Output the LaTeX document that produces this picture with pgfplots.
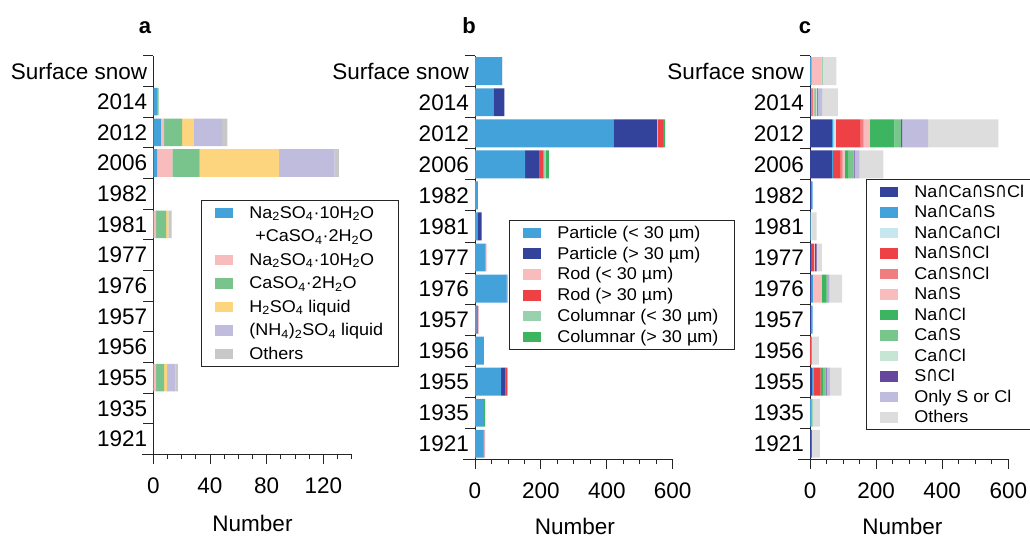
\documentclass[border=0pt]{standalone}
\usepackage{pgfplots}
\pgfplotsset{compat=1.18}
\usepackage{pgfplotstable}
\usepackage{graphicx}
\usepackage{fontspec}
\setmainfont{Liberation Sans}
\newfontfamily\legfam[FakeStretch=1.06]{Liberation Sans}
\newfontfamily\djv{DejaVu Sans}
\newcommand\inter{\scalebox{1.05}[1.4]{\djv\fontsize{15}{18}\selectfont ∩}}
\newcommand\tickfont{\fontsize{22.5}{27}\selectfont}
\newcommand\legfont{\legfam\fontsize{17}{20}\selectfont}
\definecolor{aBlue}{HTML}{43A2DA}
\definecolor{aPink}{HTML}{F8BCBC}
\definecolor{aGreen}{HTML}{78C48C}
\definecolor{aYellow}{HTML}{FED57F}
\definecolor{aPurple}{HTML}{C0BCDD}
\definecolor{aGray}{HTML}{C8C8C8}
\definecolor{bNavy}{HTML}{33429A}
\definecolor{bRed}{HTML}{EE4145}
\definecolor{bLGreen}{HTML}{98D1AD}
\definecolor{bGreen}{HTML}{3DB460}
\definecolor{cLBlue}{HTML}{C6E6F0}
\definecolor{cSalmon}{HTML}{F07E80}
\definecolor{cCaS}{HTML}{79C68C}
\definecolor{cCaCl}{HTML}{C7E5D5}
\definecolor{cSCl}{HTML}{65489C}
\definecolor{cOthers}{HTML}{DDDDDD}

\pgfplotstableread{
y s1 s2 s3 s4 s5 s6
12 0 0 0 0 0 0
11 2.5 0 1.2 0 0 0
10 5.4 2.2 12.7 8.3 19.9 3.7
9 2.6 10.9 19.1 56.1 39.3 3.0
8 0 0 0 0 0 0
7 0 1.9 7.1 1.6 0 2.4
6 0 0 0 0 0 0
5 0 0 0 0 0 0
4 0 0 0 0 0 0
3 0 0 0 0 0 0
2 0 1.9 5.7 2.1 5.9 1.7
1 0 0 0 0 0 0
0 0 0 0 0 0 0
}\dataA

\pgfplotstableread{
y p1 p2 p3 p4 p5 p6
12 80 2 0 0 0 0
11 56 33 0 0 0 0
10 420 133 1 17 0 6
9 152 44 0 12 6 10
8 9 0 0 0 0 0
7 7 13 0 0 0 0
6 32 0 3 0 0 0
5 96 2 0 0 0 0
4 4 3 0 3 0 0
3 27 0 0 0 0 0
2 79 13 0 5 3 0
1 27 0 0 0 0 4
0 26 2 3 0 0 0
}\dataB

\pgfplotstableread{
y c1 c2 c3 c4 c5 c6 c7 c8 c9 c10 c11 c12
12 0 5 0 0 0 30 0 3 0 0 1 41
11 2 2 0 4 0 5 4 0 3 3 14 47
10 66 5 7 75 9 18 75 21 0 3 78 213
9 66 3 0 24 6 6 12 15 0 3 15 72
8 3 5 0 0 0 0 0 0 0 0 0 0
7 0 2 3 0 0 0 0 0 0 0 0 15
6 3 0 0 9 0 3 0 0 0 5 0 16
5 3 6 0 0 0 27 14 3 0 2 4 38
4 4 4 0 0 0 0 0 0 0 0 0 0
3 0 0 0 3 3 0 0 0 0 0 0 21
2 6 4 0 22 0 0 7 8 0 3 10 36
1 0 3 0 0 0 0 0 5 0 0 0 22
0 3 0 0 3 0 0 0 0 0 0 0 24
}\dataC

\pgfplotsset{
  panel/.style={
    scale only axis, xbar stacked, bar width=0.9,
    axis x line*=bottom, axis y line*=middle,
    hide obscured x ticks=false, hide obscured y ticks=false,
    axis line style={-, line width=0.9pt, black!85},
    tick style={line width=0.9pt, black!85},
    tick align=outside,
    major tick length=10pt, minor tick length=5pt,
    ymin=-0.5, ymax=12.5,
    ytick={-0.5,0.5,...,12.5}, yticklabels={},
    extra y ticks={0,1,2,3,4,5,6,7,8,9,10,11,12},
    extra y tick labels={1921,1935,1955,1956,1957,1976,1977,1981,1982,2006,2012,2014,Surface snow},
    extra y tick style={ytick style={draw=none}},
    tick label style={font=\tickfont},
    yticklabel style={inner sep=0pt, xshift=4pt},
    xticklabel style={inner sep=0pt, yshift=-13pt},
    xlabel=Number,
    xlabel style={font=\tickfont, anchor=base},
    title style={anchor=base},
    legend image code/.code={\path[##1] (0pt,-5.3pt) rectangle (17.5pt,5.3pt);},
    legend cell align=left,
    legend style={draw=black!85, line width=0.8pt, font=\legfont, anchor=north west,
      inner xsep=14pt, inner ysep=3.5pt,
      nodes={inner xsep=1.5pt, inner ysep=0pt, text height=14.5pt, text depth=3.5pt},
      /tikz/every odd column/.append style={column sep=15pt}},
  },
}

\begin{document}
\begin{tikzpicture}
\path[use as bounding box] (0,0) rectangle (1030pt,538pt);

% ---------- a ----------
\begin{axis}[panel,
  at={(141.7pt,83.7pt)}, anchor=south west, width=210pt, height=398.6pt,
  xmin=-8.2, xmax=140,
  xtick={0,40,80,120}, xticklabels={0,40,80,120},
  minor xtick={10,20,30,50,60,70,90,100,110,130,140},
  title={\fontsize{22}{24}\selectfont\bfseries a}, title style={at={(rel axis cs:0.016,1)}, yshift=16.5pt},
  xlabel style={at={(rel axis cs:0.5276,0)}, yshift=-77.4pt},
  legend style={at={(rel axis cs:0.2824,0.638)}, row sep=5.5pt},
]
\addplot[fill=aBlue, draw=none] table[x=s1,y=y]{\dataA};
\addlegendentry{Na\textsubscript{2}SO\textsubscript{4}·10H\textsubscript{2}O}
\addlegendimage{empty legend}
\addlegendentry{\hspace{6pt}+CaSO\textsubscript{4}·2H\textsubscript{2}O}
\addplot[fill=aPink, draw=none] table[x=s2,y=y]{\dataA};
\addlegendentry{Na\textsubscript{2}SO\textsubscript{4}·10H\textsubscript{2}O}
\addplot[fill=aGreen, draw=none] table[x=s3,y=y]{\dataA};
\addlegendentry{CaSO\textsubscript{4}·2H\textsubscript{2}O}
\addplot[fill=aYellow, draw=none] table[x=s4,y=y]{\dataA};
\addlegendentry{H\textsubscript{2}SO\textsubscript{4} liquid}
\addplot[fill=aPurple, draw=none] table[x=s5,y=y]{\dataA};
\addlegendentry{(NH\textsubscript{4})\textsubscript{2}SO\textsubscript{4} liquid}
\addplot[fill=aGray, draw=none] table[x=s6,y=y]{\dataA};
\addlegendentry{Others}
\end{axis}

% ---------- b ----------
\begin{axis}[panel,
  at={(463pt,78.7pt)}, anchor=south west, width=209.7pt, height=403.6pt,
  xmin=-36.4, xmax=600,
  xtick={0,200,400,600}, xticklabels={0,200,400,600},
  minor xtick={50,100,150,250,300,350,450,500,550},
  title={\fontsize{22}{24}\selectfont\bfseries b}, title style={at={(rel axis cs:0.029,1)}, yshift=16.5pt},
  xlabel style={at={(rel axis cs:0.534,0)}, yshift=-75.5pt},
  legend style={at={(rel axis cs:0.219,0.593)}, row sep=2.8pt},
]
\addplot[fill=aBlue, draw=none] table[x=p1,y=y]{\dataB};
\addlegendentry{Particle (< 30 µm)}
\addplot[fill=bNavy, draw=none] table[x=p2,y=y]{\dataB};
\addlegendentry{Particle (> 30 µm)}
\addplot[fill=aPink, draw=none] table[x=p3,y=y]{\dataB};
\addlegendentry{Rod (< 30 µm)}
\addplot[fill=bRed, draw=none] table[x=p4,y=y]{\dataB};
\addlegendentry{Rod (> 30 µm)}
\addplot[fill=bLGreen, draw=none] table[x=p5,y=y]{\dataB};
\addlegendentry{Columnar (< 30 µm)}
\addplot[fill=bGreen, draw=none] table[x=p6,y=y]{\dataB};
\addlegendentry{Columnar (> 30 µm)}
\end{axis}

% ---------- c ----------
\begin{axis}[panel,
  at={(798.3pt,78.7pt)}, anchor=south west, width=210pt, height=403.6pt,
  xmin=-35.4, xmax=600,
  xtick={0,200,400,600}, xticklabels={0,200,400,600},
  minor xtick={50,100,150,250,300,350,450,500,550},
  title={\fontsize{22}{24}\selectfont\bfseries c}, title style={at={(rel axis cs:0.032,1)}, yshift=16.5pt},
  xlabel style={at={(rel axis cs:0.496,0)}, yshift=-75.5pt},
  legend style={at={(rel axis cs:0.322,0.6945)}, row sep=2.5pt},
]
\addplot[fill=bNavy, draw=none] table[x=c1,y=y]{\dataC};
\addlegendentry{Na\inter Ca\inter S\inter Cl}
\addplot[fill=aBlue, draw=none] table[x=c2,y=y]{\dataC};
\addlegendentry{Na\inter Ca\inter S}
\addplot[fill=cLBlue, draw=none] table[x=c3,y=y]{\dataC};
\addlegendentry{Na\inter Ca\inter Cl}
\addplot[fill=bRed, draw=none] table[x=c4,y=y]{\dataC};
\addlegendentry{Na\inter S\inter Cl}
\addplot[fill=cSalmon, draw=none] table[x=c5,y=y]{\dataC};
\addlegendentry{Ca\inter S\inter Cl}
\addplot[fill=aPink, draw=none] table[x=c6,y=y]{\dataC};
\addlegendentry{Na\inter S}
\addplot[fill=bGreen, draw=none] table[x=c7,y=y]{\dataC};
\addlegendentry{Na\inter Cl}
\addplot[fill=cCaS, draw=none] table[x=c8,y=y]{\dataC};
\addlegendentry{Ca\inter S}
\addplot[fill=cCaCl, draw=none] table[x=c9,y=y]{\dataC};
\addlegendentry{Ca\inter Cl}
\addplot[fill=cSCl, draw=none] table[x=c10,y=y]{\dataC};
\addlegendentry{S\inter Cl}
\addplot[fill=aPurple, draw=none] table[x=c11,y=y]{\dataC};
\addlegendentry{Only S or Cl}
\addplot[fill=cOthers, draw=none] table[x=c12,y=y]{\dataC};
\addlegendentry{Others}
\end{axis}
\end{tikzpicture}
\end{document}
